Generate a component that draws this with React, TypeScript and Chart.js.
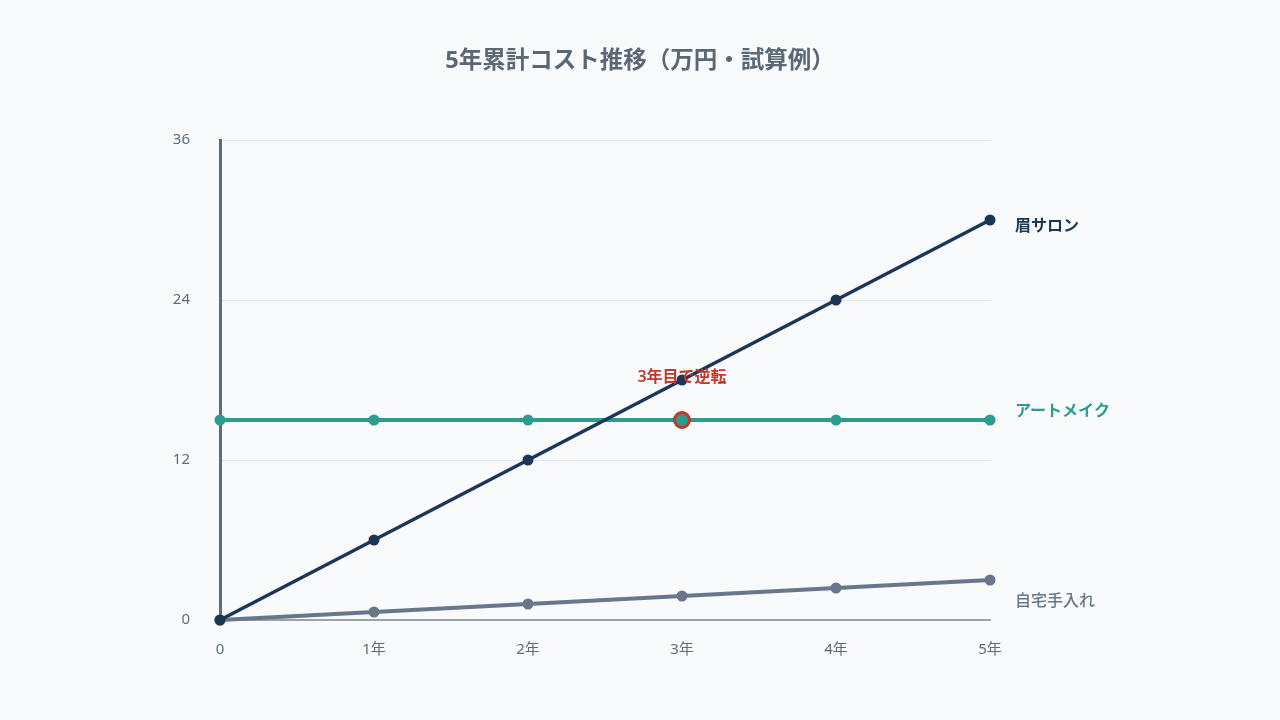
import React, { useEffect, useRef } from 'react';
import { Chart, registerables } from 'chart.js';

Chart.register(...registerables);

// Years since start
const yearLabels = ['0', '1年', '2年', '3年', '4年', '5年'];

// Cumulative cost (万円)
const salonCost = [0, 6, 12, 18, 24, 30];
const artMakeCost = [15, 15, 15, 15, 15, 15];
const homeCareCost = [0, 0.6, 1.2, 1.8, 2.4, 3.0];

const yTicks = [0, 12, 24, 36];

const seriesNames = ['眉サロン', 'アートメイク', '自宅手入れ'];
const reverseIndex = 3;
const reverseLabel = '3年目で逆転';
const chartTitle = '5年累計コスト推移（万円・試算例）';

const FONT = '"Noto Sans", "Noto Sans CJK JP", sans-serif';
const NAVY = '#1c3657';
const TEAL = '#2a9d8f';
const GRAY = '#68778a';
const RED = '#c0392b';

// title centred on the canvas, series names at line ends, crossover note
const labelPlugin = {
  id: 'endLabels',
  afterDraw(chart: Chart) {
    const { ctx } = chart;
    ctx.save();
    ctx.textBaseline = 'middle';
    ctx.textAlign = 'center';
    ctx.font = `bold 23.5px ${FONT}`;
    ctx.fillStyle = '#5b6775';
    ctx.fillText(chartTitle, chart.width / 2, 61);
    ctx.restore();
  },
  afterDatasetsDraw(chart: Chart) {
    const { ctx } = chart;
    const styles = [
      { color: NAVY, dy: 6, weight: 600 },
      { color: TEAL, dy: -9, weight: 600 },
      { color: GRAY, dy: 21, weight: 500 },
    ];
    ctx.save();
    ctx.textBaseline = 'middle';
    ctx.textAlign = 'left';
    chart.data.datasets.forEach((ds, i) => {
      const meta = chart.getDatasetMeta(i);
      const last = meta.data[meta.data.length - 1];
      if (!last) return;
      const s = styles[i];
      ctx.font = `${s.weight} 16px ${FONT}`;
      ctx.fillStyle = s.color;
      ctx.fillText(ds.label as string, last.x + 25, last.y + s.dy);
    });

    const tealMeta = chart.getDatasetMeta(1);
    const p = tealMeta.data[reverseIndex];
    if (p) {
      ctx.font = `600 16px ${FONT}`;
      ctx.fillStyle = RED;
      ctx.textAlign = 'center';
      ctx.fillText(reverseLabel, p.x, p.y - 43);
    }
    ctx.restore();
  },
};

const App: React.FC = () => {
  const canvasRef = useRef<HTMLCanvasElement | null>(null);

  useEffect(() => {
    if (!canvasRef.current) return;
    const chart = new Chart(canvasRef.current, {
      type: 'line',
      data: {
        labels: yearLabels,
        datasets: [
          {
            label: seriesNames[0],
            data: salonCost,
            borderColor: NAVY,
            backgroundColor: NAVY,
            borderWidth: 3.5,
            pointRadius: 5.5,
            pointBorderWidth: 0,
            clip: false,
          },
          {
            label: seriesNames[1],
            data: artMakeCost,
            borderColor: TEAL,
            backgroundColor: TEAL,
            borderWidth: 4,
            pointRadius: (c: any) => (c.dataIndex === reverseIndex ? 7.5 : 5.5),
            pointBorderWidth: (c: any) => (c.dataIndex === reverseIndex ? 3 : 0),
            pointBorderColor: (c: any) => (c.dataIndex === reverseIndex ? RED : TEAL),
            clip: false,
          },
          {
            label: seriesNames[2],
            data: homeCareCost,
            borderColor: GRAY,
            backgroundColor: GRAY,
            borderWidth: 4,
            pointRadius: 5.5,
            pointBorderWidth: 0,
            clip: false,
          },
        ],
      },
      options: {
        responsive: false,
        animation: false,
        layout: { padding: { left: 0, right: 290, top: 140, bottom: 0 } },
        plugins: {
          legend: { display: false },
          tooltip: { enabled: false },
          title: { display: false },
        },
        scales: {
          x: {
            offset: false,
            grid: { display: false, drawTicks: false },
            border: { display: true, color: '#9aa4ae', width: 2 },
            ticks: {
              color: '#5f6b78',
              font: { family: FONT, size: 15 },
              padding: 21,
              maxRotation: 0,
            },
            afterFit: (scale: any) => {
              scale.height = 100;
            },
          },
          y: {
            min: 0,
            max: 36,
            afterBuildTicks: (scale: any) => {
              scale.ticks = yTicks.map((v) => ({ value: v }));
            },
            grid: { color: '#e2e6ea', lineWidth: 1, drawTicks: false },
            border: { display: true, color: '#5f6b78', width: 3 },
            ticks: {
              color: '#5f6b78',
              font: { family: FONT, size: 15 },
              padding: 30,
            },
            afterFit: (scale: any) => {
              scale.width = 220;
            },
          },
        },
      },
      plugins: [labelPlugin],
    });
    return () => chart.destroy();
  }, []);

  return (
    <div
      style={{
        position: 'fixed',
        left: 0,
        top: 0,
        width: '1280px',
        height: '720px',
        background: '#f8fafc',
      }}
    >
      <canvas ref={canvasRef} width={1280} height={720} style={{ width: '1280px', height: '720px' }} />
    </div>
  );
};

export default App;
